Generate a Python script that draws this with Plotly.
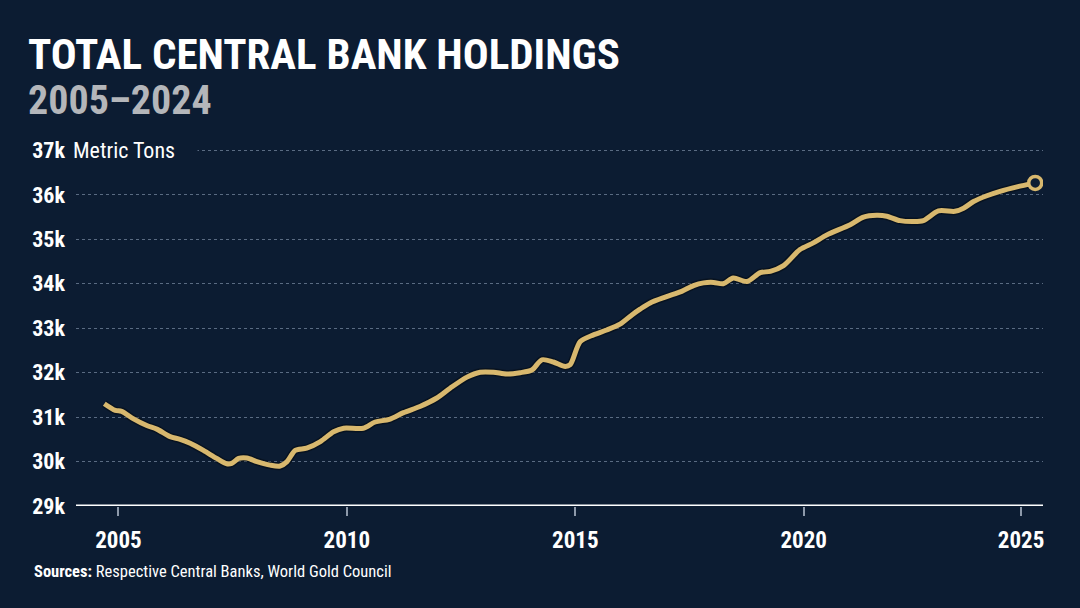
import plotly.graph_objects as go

years = [2004.69, 2004.93, 2005.07, 2005.33, 2005.62, 2005.84, 2006.13, 2006.35, 2006.57, 2006.86,
         2007.15, 2007.37, 2007.48, 2007.63, 2007.81, 2008.03, 2008.32, 2008.54, 2008.69, 2008.87,
         2009.12, 2009.42, 2009.71, 2009.93, 2010.36, 2010.62, 2010.93, 2011.24, 2011.60, 2011.97,
         2012.26, 2012.63, 2012.92, 2013.21, 2013.50, 2013.79, 2014.05, 2014.27, 2014.52, 2014.78,
         2014.89, 2015.11, 2015.40, 2015.69, 2015.98, 2016.24, 2016.42, 2016.64, 2017.00, 2017.33,
         2017.59, 2017.81, 2018.03, 2018.24, 2018.46, 2018.76, 2019.05, 2019.27, 2019.56, 2019.92,
         2020.21, 2020.51, 2021.02, 2021.31, 2021.60, 2021.82, 2022.11, 2022.40, 2022.62, 2022.95,
         2023.31, 2023.50, 2023.72, 2024.01, 2024.30, 2024.67, 2025.07]
holdings = [31300, 31150, 31130, 30960, 30810, 30730, 30560, 30500, 30410, 30250,
            30070, 29950, 29960, 30070, 30080, 30000, 29920, 29900, 30000, 30250,
            30300, 30450, 30670, 30750, 30750, 30890, 30950, 31100, 31240, 31430,
            31650, 31900, 32010, 32010, 31970, 32000, 32060, 32290, 32240, 32140,
            32180, 32700, 32850, 32960, 33090, 33300, 33430, 33570, 33710, 33830,
            33960, 34020, 34030, 34000, 34130, 34050, 34250, 34280, 34410, 34770,
            34920, 35100, 35330, 35500, 35540, 35520, 35420, 35400, 35420, 35640,
            35630, 35700, 35850, 35980, 36080, 36180, 36270]

y_tickvals = [29000, 30000, 31000, 32000, 33000, 34000, 35000, 36000, 37000]
y_ticktext = ["29k", "30k", "31k", "32k", "33k", "34k", "35k", "36k", "37k"]
x_tickvals = [2005, 2010, 2015, 2020, 2024.76]
x_ticktext = ["2005", "2010", "2015", "2020", "2025"]

title = "TOTAL CENTRAL BANK HOLDINGS"
subtitle = "2005–2024"
unit = "Metric Tons"
source = "<b>Sources:</b> Respective Central Banks, World Gold Council"

BG = "#0c1c32"
GOLD = "#d8b86e"
FONT = "Roboto Condensed, Liberation Sans, sans-serif"

W, H = 1080, 608
ML, MR, MT, MB = 76, 37, 146, 102
PW, PH = W - ML - MR, H - MT - MB

def px(x):
    return (x - ML) / PW

def py(y):
    return (H - MB - y) / PH

fig = go.Figure()
fig.add_trace(go.Scatter(x=years, y=holdings, mode="lines",
                         line=dict(color="rgba(0,0,0,0.35)", width=8, shape="spline", smoothing=0.8),
                         hoverinfo="skip", showlegend=False))
fig.add_trace(go.Scatter(x=years, y=holdings, mode="lines",
                         line=dict(color=GOLD, width=5, shape="spline", smoothing=0.8),
                         showlegend=False))
fig.add_trace(go.Scatter(x=years[-1:], y=holdings[-1:], mode="markers",
                         marker=dict(size=13, color=BG, line=dict(color=GOLD, width=3.5)),
                         showlegend=False))

fig.update_layout(
    width=W, height=H,
    paper_bgcolor=BG, plot_bgcolor=BG,
    margin=dict(l=ML, r=MR, t=MT, b=MB),
    font=dict(family=FONT, color="white"),
    xaxis=dict(range=[2004.07, 2025.24], tickvals=x_tickvals, ticktext=x_ticktext,
               showgrid=False, zeroline=False, showline=False,
               ticks="outside", ticklen=9, tickwidth=1.5, tickcolor="#8d99aa",
               tickfont=dict(size=23, color="white", family=FONT, weight="bold"),
               ticklabelstandoff=4),
    yaxis=dict(range=[29000, 37100], tickvals=y_tickvals, ticktext=y_ticktext,
               showgrid=True, gridcolor="#5a6b82", griddash="dot", gridwidth=1,
               zeroline=False, showline=False, ticks="",
               tickfont=dict(size=22, color="white", family=FONT, weight="bold"),
               ticklabelstandoff=10),
    shapes=[dict(type="line", xref="paper", yref="y", x0=0, x1=1, y0=29000, y1=29000,
                 line=dict(color="white", width=3), layer="above")],
    annotations=[
        dict(text=title, xref="paper", yref="paper", x=px(26), y=py(54), xanchor="left", yanchor="middle",
             showarrow=False, font=dict(size=43, color="white", family=FONT, weight="bold")),
        dict(text=subtitle, xref="paper", yref="paper", x=px(26), y=py(100), xanchor="left", yanchor="middle",
             showarrow=False, font=dict(size=40, color="#b4b6ba", family=FONT, weight="bold")),
        dict(text=unit + "    ", xref="paper", yref="y", x=px(70), y=37000, xanchor="left", yanchor="middle",
             showarrow=False, bgcolor=BG, borderpad=2,
             font=dict(size=22, color="white", family=FONT)),
        dict(text=source, xref="paper", yref="paper", x=px(32), y=py(571), xanchor="left", yanchor="middle",
             showarrow=False, font=dict(size=16.5, color="white", family=FONT)),
    ],
)

fig.write_html("out.html", config={"displayModeBar": False},
               post_script="document.body.style.margin='0';document.body.style.background='" + BG + "';")
